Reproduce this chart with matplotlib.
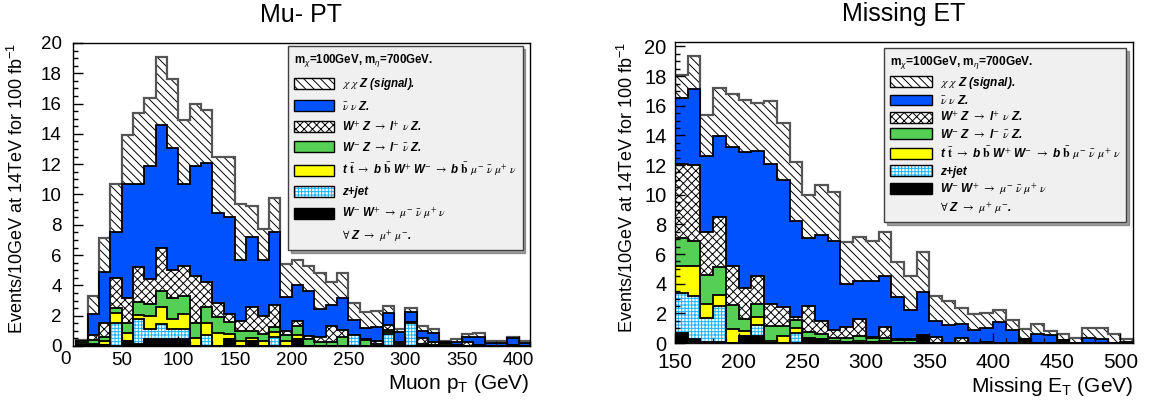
import numpy as np
import matplotlib
matplotlib.use("Agg")
import matplotlib.pyplot as plt
import matplotlib.transforms as mtransforms
from matplotlib.patches import Patch
from matplotlib.ticker import MultipleLocator

plt.rcParams["font.family"] = ["Liberation Sans", "DejaVu Sans"]
plt.rcParams["mathtext.fontset"] = "custom"
plt.rcParams["mathtext.rm"] = "Liberation Sans"
plt.rcParams["mathtext.it"] = "Liberation Sans:italic"
plt.rcParams["mathtext.bf"] = "Liberation Sans:bold"
plt.rcParams["hatch.linewidth"] = 0.7

# Muon pT: 10 GeV bins from 10 to 410, stack level after each process
mu_edges = np.arange(10, 420, 10)
mu_ww = [0.05, 0.05, 0.05, 0, 0.3, 0.15, 0.45, 0.45, 0.45, 0.45,
         0, 0, 0, 0.45, 0, 0.35, 0, 0, 0, 0.44,
         0, 0, 0, 0, 0, 0, 0, 0, 0, 0,
         0, 0, 0, 0, 0, 0, 0, 0, 0, 0]
mu_zjet = [0.05, 0.05, 0.05, 1.5, 0.3, 1.75, 1.15, 1.45, 1.15, 1.15,
           0, 0.7, 0, 0.45, 0, 0.35, 0, 0.62, 0, 0.44,
           0, 0, 0, 0, 0.73, 0, 0, 0.8, 0, 1.5,
           0, 0, 0, 0, 0, 0, 0, 0, 0, 0]
mu_tt = [0.2, 0.15, 0.3, 2.2, 0.85, 2.05, 1.95, 2.55, 1.8, 2.1,
         0.5, 1.5, 0.85, 0.8, 0.3, 0.5, 0.3, 0.9, 0.3, 0.7,
         0, 0, 0, 0, 0.73, 0, 0, 0.9, 0, 1.5,
         0, 0, 0.15, 0, 0, 0, 0, 0, 0, 0]
mu_wmz = [0.3, 0.4, 0.62, 2.5, 1.5, 2.9, 2.75, 3.6, 3.2, 3.3,
          1.55, 2.55, 1.9, 1.6, 1.0, 1.0, 0.8, 1.25, 0.73, 1.32,
          0.44, 0.29, 0.29, 0.62, 0.73, 0.4, 0.1, 1.06, 0.13, 1.6,
          0.13, 0.05, 0.15, 0, 0, 0, 0, 0, 0, 0]
mu_wpz = [0.35, 0.75, 1.55, 4.5, 3.2, 5.2, 4.4, 6.5, 5.0, 5.3,
          4.6, 4.25, 2.85, 2.1, 1.65, 2.6, 2.0, 2.7, 1.0, 1.65,
          0.66, 0.57, 1.35, 1.08, 0.73, 0.45, 0.35, 1.39, 0.29, 1.6,
          0.5, 0.29, 0.2, 0.05, 0.29, 0.05, 0, 0, 0.05, 0]
mu_nnz = [0.35, 2.1, 4.9, 7.5, 10.7, 10.7, 11.9, 14.6, 13.1, 10.7,
          11.9, 12.05, 8.8, 8.5, 5.7, 7.2, 5.65, 7.5, 3.25, 4.0,
          3.65, 2.45, 2.7, 3.2, 1.72, 1.17, 1.28, 2.2, 0.95, 2.27,
          1.01, 0.88, 0.25, 0.29, 0.57, 0.57, 0.18, 0.22, 0.5, 0.22]
mu_sig = [0.4, 3.3, 7.1, 10.7, 13.9, 15.4, 16.4, 19.1, 17.6, 14.9,
          16.0, 15.6, 12.5, 12.5, 9.4, 9.25, 7.7, 9.75, 5.4, 5.65,
          5.25, 4.8, 4.2, 4.85, 2.85, 2.22, 2.31, 2.66, 1.1, 2.49,
          1.34, 1.1, 0.35, 0.44, 0.77, 0.84, 0.35, 0.35, 0.62, 0.31]

# Missing ET: 10 GeV bins from 150 to 510
met_edges = np.arange(150, 520, 10)
met_ww = [0.7, 0.25, 0.1, 0.1, 0, 0.47, 0.47, 0, 0, 0,
          0.25, 0.25, 0, 0, 0, 0.1, 0, 0, 0, 0.47,
          0, 0, 0, 0, 0, 0, 0, 0.3, 0, 0,
          0.18, 0, 0, 0, 0, 0]
met_zjet = [3.4, 3.2, 1.71, 2.5, 0, 0.47, 1.2, 0, 0, 0.7,
            0.25, 0.25, 0, 0, 0, 0.1, 0, 0, 0, 0.47,
            0, 0, 0, 0, 0, 0, 0, 0.3, 0, 0,
            0.18, 0, 0, 0, 0, 0]
met_tt = [5.2, 5.2, 2.6, 3.27, 0.92, 0.8, 1.76, 0.14, 0.45, 1.0,
          0.36, 0.25, 0.14, 0.1, 0.14, 0.1, 0.14, 0, 0, 0.47,
          0, 0, 0, 0, 0.05, 0, 0, 0.3, 0, 0,
          0.18, 0, 0, 0, 0, 0]
met_wmz = [7.05, 6.85, 4.62, 5.1, 2.57, 1.6, 2.66, 1.15, 1.15, 1.53,
           0.75, 0.63, 0.36, 0.32, 0.47, 0.36, 0.36, 0.2, 0.2, 0.47,
           0, 0, 0, 0, 0.1, 0, 0, 0.3, 0, 0,
           0.18, 0, 0, 0, 0, 0]
met_wpz = [12.1, 12.0, 7.46, 8.52, 5.21, 3.7, 4.5, 2.62, 2.42, 1.77,
           2.5, 1.5, 0.85, 1.1, 1.6, 0.4, 1.1, 0.3, 0.25, 0.55,
           0.41, 0, 0.32, 0, 0.1, 0, 0, 0.3, 0, 0,
           0.18, 0, 0, 0, 0, 0]
met_nnz = [16.5, 17.1, 12.6, 13.94, 13.22, 12.88, 12.95, 12.04, 11.0, 8.21,
           7.08, 7.31, 6.86, 3.97, 4.17, 4.17, 4.5, 3.11, 2.21, 3.47,
           1.49, 1.22, 1.31, 0.9, 1.0, 1.42, 0.86, 0.3, 0.63, 0.54,
           0.18, 0, 0.32, 0.25, 0, 0.1]
met_sig = [18.1, 19.35, 15.35, 17.2, 16.76, 16.37, 16.19, 16.3, 14.84, 12.2,
           9.95, 10.69, 10.2, 6.79, 7.13, 6.9, 7.46, 5.44, 4.53, 6.11,
           3.2, 2.8, 2.35, 1.96, 2.02, 2.21, 1.58, 0.92, 1.26, 0.81,
           0.63, 0.36, 0.99, 1.0, 0.59, 0.3]

legend_header = r"m$_{\chi}$=100GeV, m$_{\eta}$=700GeV."
legend_labels = [
    r"$\chi\ \chi$ Z (signal).",
    r"$\bar{\nu}\ \nu$ Z.",
    r"W$^{+}$ Z $\rightarrow$ l$^{+}$ $\nu$ Z.",
    r"W$^{-}$ Z $\rightarrow$ l$^{-}$ $\bar{\nu}$ Z.",
    r"t $\bar{\mathbf{t}}$ $\rightarrow$ b $\bar{\mathbf{b}}$ W$^{+}$ W$^{-}$ $\rightarrow$ b $\bar{\mathbf{b}}$ $\mu^{-}\ \bar{\nu}\ \mu^{+}\ \nu$",
    "z+jet",
    r"W$^{-}$ W$^{+}$ $\rightarrow$ $\mu^{-}\ \bar{\nu}\ \mu^{+}\ \nu$",
    r"$\forall$ Z $\rightarrow$ $\mu^{+}\ \mu^{-}$.",
]

BLUE = "#0052ff"
GREEN = "#55d055"
YELLOW = "#ffff00"
CYAN = "#1ab4ff"
SIG_HATCH = "\\\\\\\\"
WZ_HATCH = "xxxx"
ZJ_HATCH = "+++++"


def draw_stack(ax, edges, sig, nnz, wpz, wmz, tt, zjet, ww):
    # same order as THStack drawing: total first, each lower level on top of it
    layers = [
        (sig, "white", SIG_HATCH, "black", "#555555", 1.6),
        (nnz, BLUE, None, BLUE, "black", 1.3),
        (wpz, "white", WZ_HATCH, "black", "black", 1.3),
        (wmz, GREEN, None, GREEN, "black", 1.3),
        (tt, YELLOW, None, YELLOW, "black", 1.3),
        (zjet, "white", ZJ_HATCH, CYAN, "black", 1.3),
        (ww, "black", None, "black", "black", 1.3),
    ]
    for vals, face, hatch, hcol, lcol, lw in layers:
        ax.stairs(vals, edges, baseline=0, fill=True, facecolor=face,
                  edgecolor=hcol, hatch=hatch, linewidth=0)
        ax.stairs(vals, edges, baseline=0, color=lcol, linewidth=lw)


def add_legend(ax, anchor, size, spacing, hheight):
    handles = [
        Patch(facecolor="white", edgecolor="black", hatch=SIG_HATCH),
        Patch(facecolor=BLUE, edgecolor="black"),
        Patch(facecolor="white", edgecolor="black", hatch=WZ_HATCH),
        Patch(facecolor=GREEN, edgecolor="black"),
        Patch(facecolor=YELLOW, edgecolor="black"),
        (Patch(facecolor="white", edgecolor=CYAN, hatch=ZJ_HATCH, linewidth=0),
         Patch(facecolor="none", edgecolor="black")),
        Patch(facecolor="black", edgecolor="black"),
        Patch(facecolor="none", edgecolor="none"),
    ]
    leg = ax.legend(handles, legend_labels, loc="upper right",
                    bbox_to_anchor=anchor, borderaxespad=0,
                    title=legend_header, alignment="left",
                    fancybox=False, shadow=True, facecolor="#f0f0f0",
                    edgecolor="#404040", framealpha=1,
                    handlelength=3.5, handleheight=hheight,
                    labelspacing=spacing, handletextpad=0.65,
                    borderpad=0.5,
                    prop=dict(size=size, weight="bold", style="italic"),
                    title_fontproperties=dict(size=size, weight="bold"))
    for t in leg.get_texts():
        t.set_math_fontfamily("stix")
    return leg


def style_axes(ax, labelsize):
    ax.xaxis.set_major_locator(MultipleLocator(50))
    ax.xaxis.set_minor_locator(MultipleLocator(10))
    ax.yaxis.set_major_locator(MultipleLocator(2))
    ax.yaxis.set_minor_locator(MultipleLocator(0.5))
    ax.tick_params(which="both", direction="in", top=False, right=False,
                   width=1, labelsize=labelsize, pad=4)
    ax.tick_params(which="major", length=7)
    ax.tick_params(which="minor", length=3.5)
    for s in ax.spines.values():
        s.set_linewidth(1)


fig = plt.figure(figsize=(11.49, 4.07), dpi=100)
ax1 = fig.add_axes([0.0635, 0.1499, 0.3977, 0.7445])
ax2 = fig.add_axes([0.5875, 0.1572, 0.3986, 0.7396])

# Muon pT panel
draw_stack(ax1, mu_edges, mu_sig, mu_nnz, mu_wpz, mu_wmz, mu_tt, mu_zjet, mu_ww)
ax1.set_xlim(7, 410)
ax1.set_ylim(0, 20)
style_axes(ax1, 13.5)
ax1.tick_params(axis="y", pad=8)
# ROOT still prints the "0" label just left of the frame
trans = mtransforms.blended_transform_factory(ax1.transData, ax1.transAxes)
ax1.text(0, -0.018, "0", transform=trans, ha="center", va="top",
         fontsize=13.5, clip_on=False)
ax1.set_title("Mu- PT", fontsize=18, pad=15)
ax1.set_xlabel(r"Muon p$_{\rm T}$ (GeV)", fontsize=15, loc="right")
ax1.xaxis.set_label_coords(1.0, -0.085)
ax1.set_ylabel(r"Events/10GeV at 14TeV for 100 fb$^{-1}$", fontsize=13, loc="top")
ax1.yaxis.set_label_coords(-0.1, 1.0)
add_legend(ax1, (0.984, 0.99), 8.3, 0.64, 1.1)

# Missing ET panel
draw_stack(ax2, met_edges, met_sig, met_nnz, met_wpz, met_wmz, met_tt, met_zjet, met_ww)
ax2.set_xlim(150, 510)
ax2.set_ylim(0, 20.3)
style_axes(ax2, 15)
ax2.tick_params(axis="y", pad=6, labelsize=14.5)
ax2.tick_params(axis="x", pad=7)
ax2.set_title("Missing ET", fontsize=18, pad=15)
ax2.set_xlabel(r"Missing E$_{\rm T}$ (GeV)", fontsize=15, loc="right")
ax2.xaxis.set_label_coords(1.0, -0.105)
ax2.set_ylabel(r"Events/10GeV at 14TeV for 100 fb$^{-1}$", fontsize=13, loc="top")
ax2.yaxis.set_label_coords(-0.082, 1.0)
add_legend(ax2, (0.985, 0.98), 8.6, 0.3, 1.0)

fig.savefig("out.png", dpi=100)
